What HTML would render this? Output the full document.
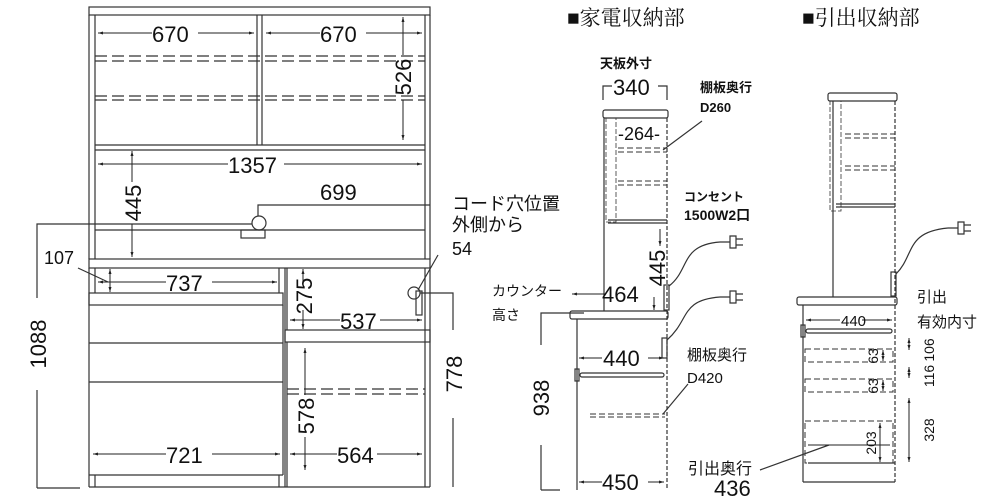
<!DOCTYPE html>
<html><head><meta charset="utf-8"><style>
html,body{margin:0;padding:0;background:#fff}
svg{display:block}
text{font-family:"Liberation Sans","Noto Sans CJK JP",sans-serif;fill:#111}
.ttl{font-family:"Liberation Serif","Noto Serif CJK SC",serif;font-size:21px}
</style></head><body>
<svg width="1000" height="500" viewBox="0 0 1000 500" xmlns="http://www.w3.org/2000/svg">
<defs>
<marker id="a" viewBox="0 0 10 10" refX="10" refY="5" markerWidth="7" markerHeight="5" orient="auto-start-reverse"><path d="M0,2 L10,5 L0,8z" fill="#222"/></marker>
</defs>
<g stroke="#333" stroke-width="1.2" fill="none">
<rect x="89" y="7" width="341" height="8"/>
<line x1="89" y1="15" x2="89" y2="259"/><line x1="95" y1="15" x2="95" y2="259"/>
<line x1="425" y1="15" x2="425" y2="259"/><line x1="430" y1="15" x2="430" y2="259"/>
<line x1="257" y1="15" x2="257" y2="145"/><line x1="262" y1="15" x2="262" y2="145"/>
<line x1="95" y1="145" x2="425" y2="145"/><line x1="95" y1="150" x2="425" y2="150"/>
<g stroke-dasharray="12,5"><line x1="95" y1="56" x2="425" y2="56"/><line x1="95" y1="61" x2="425" y2="61"/><line x1="95" y1="96" x2="425" y2="96"/><line x1="95" y1="100" x2="425" y2="100"/></g>
<line x1="95" y1="230" x2="425" y2="230"/>
<rect x="89" y="259" width="341" height="9"/>
<line x1="89" y1="268" x2="89" y2="487"/><line x1="95" y1="268" x2="95" y2="293"/>
<line x1="279" y1="268" x2="279" y2="293"/><line x1="285" y1="268" x2="285" y2="487"/>
<rect x="89" y="293" width="194" height="12"/>
<line x1="89" y1="343" x2="283" y2="343"/><line x1="89" y1="382" x2="283" y2="382"/>
<line x1="283" y1="305" x2="283" y2="475"/>
<line x1="89" y1="475" x2="283" y2="475"/><line x1="89" y1="487" x2="430" y2="487"/>
<line x1="95" y1="475" x2="95" y2="487"/><line x1="279" y1="475" x2="279" y2="487"/>
<line x1="287" y1="268" x2="287" y2="330"/>
<rect x="285" y="330" width="145" height="12"/>
<line x1="287" y1="342" x2="287" y2="487"/>
<line x1="425" y1="268" x2="425" y2="487"/><line x1="430" y1="268" x2="430" y2="487"/>
<g stroke-dasharray="12,5"><line x1="287" y1="389" x2="425" y2="389"/><line x1="287" y1="394" x2="425" y2="394"/></g>
<circle cx="259" cy="223" r="7"/><rect x="241" y="230" width="24" height="8"/>
<circle cx="414" cy="293" r="6"/><rect x="416" y="291" width="6" height="24"/>
<polyline points="258,216 258,205 430,205"/>
<polyline points="252,224 37,224 37,298"/>
<line x1="37" y1="390" x2="37" y2="488"/><line x1="37" y1="488" x2="80" y2="488"/>
<polyline points="420,293 453,293 453,330"/><line x1="453" y1="418" x2="453" y2="487"/>
<line x1="438" y1="255" x2="418" y2="290"/>
<line x1="78" y1="268" x2="108" y2="282"/>
</g>
<g stroke="#222" stroke-width="1" fill="none">
<line x1="98" y1="33" x2="152" y2="33" marker-start="url(#a)"/><line x1="198" y1="33" x2="254" y2="33" marker-end="url(#a)"/>
<line x1="266" y1="33" x2="320" y2="33" marker-start="url(#a)"/><line x1="366" y1="33" x2="422" y2="33" marker-end="url(#a)"/>
<line x1="403" y1="17" x2="403" y2="55" marker-start="url(#a)"/><line x1="403" y1="100" x2="403" y2="140" marker-end="url(#a)"/>
<line x1="98" y1="164" x2="228" y2="164" marker-start="url(#a)"/><line x1="284" y1="164" x2="422" y2="164" marker-end="url(#a)"/>
<line x1="132" y1="151" x2="132" y2="182" marker-start="url(#a)"/><line x1="132" y1="224" x2="132" y2="257" marker-end="url(#a)"/>
<line x1="110" y1="269" x2="110" y2="292" marker-start="url(#a)" marker-end="url(#a)"/>
<line x1="98" y1="282" x2="166" y2="282" marker-start="url(#a)"/><line x1="212" y1="282" x2="277" y2="282" marker-end="url(#a)"/>
<line x1="303" y1="269" x2="303" y2="283" marker-start="url(#a)"/><line x1="303" y1="310" x2="303" y2="329" marker-end="url(#a)"/>
<line x1="290" y1="320" x2="340" y2="320" marker-start="url(#a)"/><line x1="380" y1="320" x2="422" y2="320" marker-end="url(#a)"/>
<line x1="305" y1="348" x2="305" y2="395" marker-start="url(#a)"/><line x1="305" y1="437" x2="305" y2="470" marker-end="url(#a)"/>
<line x1="290" y1="454" x2="337" y2="454" marker-start="url(#a)"/><line x1="377" y1="454" x2="422" y2="454" marker-end="url(#a)"/>
<line x1="93" y1="454" x2="166" y2="454" marker-start="url(#a)"/><line x1="212" y1="454" x2="280" y2="454" marker-end="url(#a)"/>
</g>
<g font-size="22">
<text x="152" y="42">670</text><text x="320" y="42">670</text>
<text x="228" y="173">1357</text><text x="320" y="200">699</text>
<text x="166" y="291">737</text><text x="340" y="329">537</text>
<text x="337" y="463">564</text><text x="166" y="463">721</text>
<text transform="translate(411,77) rotate(-90)" text-anchor="middle">526</text>
<text transform="translate(141,203) rotate(-90)" text-anchor="middle">445</text>
<text transform="translate(312,296) rotate(-90)" text-anchor="middle">275</text>
<text transform="translate(314,416) rotate(-90)" text-anchor="middle">578</text>
<text transform="translate(46,344) rotate(-90)" text-anchor="middle">1088</text>
<text transform="translate(462,374) rotate(-90)" text-anchor="middle">778</text>
</g>
<text x="44" y="264" font-size="18">107</text>
<text x="452" y="210" font-size="18">コード穴位置</text>
<text x="452" y="231" font-size="18">外側から</text>
<text x="452" y="255" font-size="18">54</text>

<text x="567" y="25" class="ttl">■家電収納部</text>
<text x="600" y="68" font-size="13" font-weight="bold">天板外寸</text>
<text x="613" y="95" font-size="22">340</text>
<g stroke="#333" stroke-width="1.2" fill="none">
<polyline points="603,100 603,86 612,86"/><polyline points="658,86 667,86 667,100"/>
<rect x="603" y="110" width="65" height="8" rx="2"/>
<line x1="604" y1="118" x2="604" y2="311"/>
<line x1="667" y1="118" x2="667" y2="490" stroke-dasharray="4,2"/>
<line x1="608" y1="220" x2="667" y2="220"/><line x1="608" y1="223" x2="667" y2="223"/>
<rect x="606" y="118" width="10" height="104" stroke-dasharray="5,2" stroke-width="0.8"/>
<g stroke-dasharray="6,3" stroke-width="1"><line x1="618" y1="148" x2="667" y2="148"/><line x1="618" y1="152" x2="667" y2="152"/><line x1="618" y1="181" x2="667" y2="181"/><line x1="618" y1="185" x2="667" y2="185"/>
<line x1="590" y1="414" x2="665" y2="414"/><line x1="590" y1="417" x2="665" y2="417"/></g>
<rect x="570" y="311" width="98" height="8" rx="2"/>
<line x1="577" y1="319" x2="577" y2="490"/>
<rect x="575" y="369" width="4" height="12"/><rect x="580" y="373" width="84" height="4" rx="2"/>
<rect x="664" y="285" width="5" height="25"/><rect x="662" y="338" width="5" height="20"/>
<path d="M669,286 C690,270 680,245 720,242"/><path d="M667,340 C690,320 680,300 720,297"/>
<path d="M720,242 h10 v-6 h6 v12 h-6 v-6 M736,239h7M736,245h7"/>
<path d="M720,297 h10 v-6 h6 v12 h-6 v-6 M736,294h7M736,300h7"/>
<line x1="663" y1="150" x2="702" y2="121"/><line x1="663" y1="414" x2="688" y2="384"/>
<polyline points="584,313 541,313 541,345"/><line x1="541" y1="445" x2="541" y2="490"/>
<line x1="541" y1="490" x2="560" y2="490"/>
</g>
<g stroke="#222" stroke-width="1" fill="none">
<line x1="660" y1="229" x2="660" y2="246" marker-end="url(#a)"/><line x1="654" y1="297" x2="654" y2="310" marker-end="url(#a)"/>
<line x1="605" y1="294" x2="572" y2="294" marker-end="url(#a)"/>
<line x1="602" y1="358" x2="579" y2="358" marker-end="url(#a)"/><line x1="648" y1="358" x2="664" y2="358" marker-end="url(#a)"/>
<line x1="602" y1="482" x2="579" y2="482" marker-end="url(#a)"/><line x1="648" y1="482" x2="664" y2="482" marker-end="url(#a)"/>
</g>
<text x="618" y="140" font-size="18">-264-</text>
<text x="700" y="92" font-size="13" font-weight="bold">棚板奥行</text>
<text x="700" y="112" font-size="13" font-weight="bold">D260</text>
<text x="684" y="201" font-size="12" font-weight="bold">コンセント</text>
<text x="684" y="220" font-size="14" font-weight="bold">1500W2口</text>
<text x="492" y="296" font-size="14">カウンター</text>
<text x="492" y="320" font-size="14">高さ</text>
<text x="602" y="302" font-size="22">464</text>
<text transform="translate(665,268) rotate(-90)" text-anchor="middle" font-size="22">445</text>
<text x="603" y="366" font-size="22">440</text>
<text x="602" y="490" font-size="22">450</text>
<text x="687" y="360" font-size="15">棚板奥行</text>
<text x="687" y="383" font-size="15">D420</text>
<text transform="translate(549,398) rotate(-90)" text-anchor="middle" font-size="22">938</text>

<text x="802" y="25" class="ttl">■引出収納部</text>
<g stroke="#333" stroke-width="1.2" fill="none">
<rect x="828" y="93" width="69" height="8" rx="2"/>
<line x1="833" y1="101" x2="833" y2="297"/>
<line x1="895" y1="101" x2="895" y2="482" stroke-dasharray="4,2"/>
<line x1="836" y1="204" x2="895" y2="204"/><line x1="836" y1="207" x2="895" y2="207"/>
<rect x="830" y="101" width="11" height="110" stroke-dasharray="5,2" stroke-width="0.8"/>
<g stroke-dasharray="6,3" stroke-width="1"><line x1="845" y1="134" x2="895" y2="134"/><line x1="845" y1="138" x2="895" y2="138"/><line x1="845" y1="166" x2="895" y2="166"/><line x1="845" y1="170" x2="895" y2="170"/>
<rect x="805" y="349" width="88" height="13"/><rect x="805" y="379" width="88" height="13"/><rect x="805" y="421" width="88" height="42"/></g>
<rect x="797" y="297" width="100" height="8" rx="2"/>
<line x1="803" y1="305" x2="803" y2="482"/><line x1="803" y1="482" x2="895" y2="482"/>
<line x1="808" y1="463" x2="895" y2="463"/>
<rect x="801" y="325" width="4" height="12"/><rect x="806" y="329" width="86" height="4" rx="2"/>
<rect x="891" y="272" width="5" height="24"/>
<path d="M896,274 C915,255 905,232 948,228"/>
<path d="M948,228 h10 v-6 h6 v12 h-6 v-6 M964,225h7M964,231h7"/>
<line x1="829" y1="445" x2="760" y2="470"/>
</g>
<g stroke="#222" stroke-width="1" fill="none">
<line x1="840" y1="320" x2="806" y2="320" marker-end="url(#a)"/><line x1="862" y1="320" x2="892" y2="320" marker-end="url(#a)"/>
<line x1="883" y1="350" x2="883" y2="361" marker-start="url(#a)" marker-end="url(#a)"/>
<line x1="883" y1="380" x2="883" y2="391" marker-start="url(#a)" marker-end="url(#a)"/>
<line x1="880" y1="423" x2="880" y2="462" marker-start="url(#a)" marker-end="url(#a)"/>
<line x1="808" y1="445" x2="890" y2="445"/>
<line x1="909" y1="338" x2="909" y2="350" marker-start="url(#a)" marker-end="url(#a)"/>
<line x1="909" y1="367" x2="909" y2="378" marker-start="url(#a)" marker-end="url(#a)"/>
<line x1="909" y1="398" x2="909" y2="462" marker-start="url(#a)" marker-end="url(#a)"/>
</g>
<text x="841" y="326" font-size="15">440</text>
<text transform="translate(878,356) rotate(-90)" text-anchor="middle" font-size="14">63</text>
<text transform="translate(878,386) rotate(-90)" text-anchor="middle" font-size="14">63</text>
<text transform="translate(876,443) rotate(-90)" text-anchor="middle" font-size="14">203</text>
<text transform="translate(934,350) rotate(-90)" text-anchor="middle" font-size="14">106</text>
<text transform="translate(934,376) rotate(-90)" text-anchor="middle" font-size="14">116</text>
<text transform="translate(934,430) rotate(-90)" text-anchor="middle" font-size="14">328</text>
<text x="917" y="302" font-size="15">引出</text>
<text x="917" y="327" font-size="15">有効内寸</text>
<text x="688" y="474" font-size="16">引出奥行</text>
<text x="714" y="496" font-size="22">436</text>
</svg>
</body></html>
